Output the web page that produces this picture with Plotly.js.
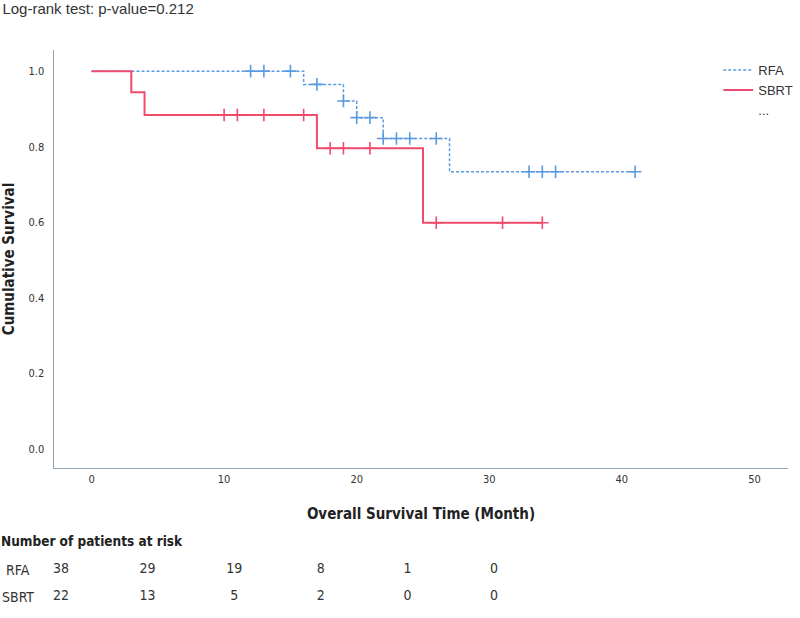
<!DOCTYPE html>
<html>
<head>
<meta charset="utf-8">
<script src="https://cdn.plot.ly/plotly-3.0.1.min.js"></script>
<style>html,body{margin:0;padding:0;background:#fff}#chart{width:800px;height:618px}</style>
</head>
<body>
<div id="chart"></div>
<script>
// Kaplan-Meier step points (time in months, cumulative survival)
var rfaTime = [0, 16, 19, 20, 22, 27, 41];
var rfaSurv = [1.0, 0.965, 0.921, 0.877, 0.822, 0.734, 0.734];
var rfaCensored = [12, 13, 15, 17, 19, 20, 21, 22, 23, 24, 26, 33, 34, 35, 41];

var sbrtTime = [0, 3, 4, 17, 25, 34];
var sbrtSurv = [1.0, 0.944, 0.884, 0.796, 0.599, 0.599];
var sbrtCensored = [10, 11, 13, 16, 18, 19, 21, 26, 31, 34];

// Number at risk table
var riskTimes = [0, 10, 20, 30, 40, 50];
var riskRFA = [38, 29, 19, 8, 1, 0];
var riskSBRT = [22, 13, 5, 2, 0, 0];
var groups = ['RFA', 'SBRT'];

var xTicks = [0, 10, 20, 30, 40, 50];
var yTicks = [0.0, 0.2, 0.4, 0.6, 0.8, 1.0];

var blue = '#5b9be0';
var red = '#ef4b6c';
var narrow = 'DejaVu Sans Condensed, Liberation Sans Narrow, Arial Narrow, sans-serif';

function survAt(times, surv, t) {
  var v = surv[0];
  for (var i = 0; i < times.length; i++) { if (times[i] <= t) v = surv[i]; }
  return v;
}

var traces = [
  {x: rfaTime, y: rfaSurv, type: 'scatter', mode: 'lines', name: 'RFA',
   line: {shape: 'hv', color: blue, width: 1.5, dash: '3px,2px'}, legendgroup: 'rfa'},
  {x: rfaCensored, y: rfaCensored.map(function(t){return survAt(rfaTime, rfaSurv, t);}),
   type: 'scatter', mode: 'markers', showlegend: false, legendgroup: 'rfa',
   marker: {symbol: 'cross-thin-open', size: 9, color: blue, line: {color: blue, width: 1.6}}},
  {x: sbrtTime, y: sbrtSurv, type: 'scatter', mode: 'lines', name: 'SBRT',
   line: {shape: 'hv', color: red, width: 2}, legendgroup: 'sbrt'},
  {x: sbrtCensored, y: sbrtCensored.map(function(t){return survAt(sbrtTime, sbrtSurv, t);}),
   type: 'scatter', mode: 'markers', showlegend: false, legendgroup: 'sbrt',
   marker: {symbol: 'cross-thin-open', size: 9, color: red, line: {color: red, width: 1.6}}},
  {x: [null], y: [null], type: 'scatter', mode: 'lines', name: '...',
   line: {color: 'rgba(0,0,0,0)', width: 0}},
  {x: riskTimes, y: riskTimes.map(function(){return groups[0];}), text: riskRFA.map(String),
   type: 'scatter', mode: 'text', xaxis: 'x2', yaxis: 'y2', showlegend: false, cliponaxis: false,
   textfont: {family: narrow, size: 14, color: '#333'}},
  {x: riskTimes, y: riskTimes.map(function(){return groups[1];}), text: riskSBRT.map(String),
   type: 'scatter', mode: 'text', xaxis: 'x2', yaxis: 'y2', showlegend: false, cliponaxis: false,
   textfont: {family: narrow, size: 14, color: '#333'}}
];

var layout = {
  width: 800, height: 618,
  margin: {l: 54, r: 2, t: 50, b: 8},
  paper_bgcolor: '#fff', plot_bgcolor: '#fff',
  showlegend: true,
  font: {family: 'Liberation Sans, Arial, sans-serif', color: '#333'},
  title: {text: 'Log-rank test: p-value=0.212', x: 0.003, xanchor: 'left', xref: 'container',
          y: 0.995, yanchor: 'top', yref: 'container', pad: {l: 0, t: 0},
          font: {family: 'Liberation Sans, Arial, sans-serif', size: 15, color: '#333'}},
  xaxis: {range: [-2.83, 52.53], tickvals: xTicks, ticktext: xTicks.map(String),
          showgrid: false, zeroline: false, showline: true, linecolor: '#8fa3b2', linewidth: 1.5,
          ticks: '', tickfont: {family: narrow, size: 11, color: '#333'}, anchor: 'y',
          title: {text: '<b>Overall Survival Time (Month)</b>', standoff: 24,
                  font: {family: narrow, size: 15, color: '#222'}}},
  yaxis: {domain: [0.2536, 1], range: [-0.05, 1.056], tickvals: yTicks,
          ticktext: yTicks.map(function(v){return v.toFixed(1);}),
          showgrid: false, zeroline: false, showline: true, linecolor: '#8fa3b2', linewidth: 1.5,
          ticks: '', ticklabelstandoff: 6, tickfont: {family: narrow, size: 11, color: '#333'},
          title: {text: '<b>Cumulative Survival</b>', standoff: 10,
                  font: {family: narrow, size: 15, color: '#222'}}},
  xaxis2: {range: [-0.8, 83.94], visible: false, anchor: 'y2', fixedrange: true},
  yaxis2: {domain: [0, 0.0964], range: [1.5, -0.5], type: 'category', categoryorder: 'array',
           categoryarray: groups, visible: false, fixedrange: true},
  legend: {x: 0.905, xanchor: 'left', y: 0.991, yanchor: 'top', bgcolor: 'rgba(0,0,0,0)',
           itemwidth: 30, tracegroupgap: 0, traceorder: 'normal',
           font: {family: 'Liberation Sans, Arial, sans-serif', size: 13, color: '#333'}},
  annotations: [
    {text: '<b>Number of patients at risk</b>', xref: 'paper', yref: 'paper', x: -0.0755, y: 0.1232,
     xanchor: 'left', yanchor: 'middle', showarrow: false,
     font: {family: narrow, size: 13.5, color: '#222'}},
    {text: groups[0], xref: 'paper', yref: 'y2', x: -0.0484, y: groups[0], xanchor: 'center',
     yanchor: 'middle', showarrow: false, font: {family: narrow, size: 14, color: '#333'}},
    {text: groups[1], xref: 'paper', yref: 'y2', x: -0.0484, y: groups[1], xanchor: 'center',
     yanchor: 'middle', showarrow: false, font: {family: narrow, size: 14, color: '#333'}}
  ]
};

Plotly.newPlot('chart', traces, layout, {displayModeBar: false, staticPlot: true});
</script>
</body>
</html>
